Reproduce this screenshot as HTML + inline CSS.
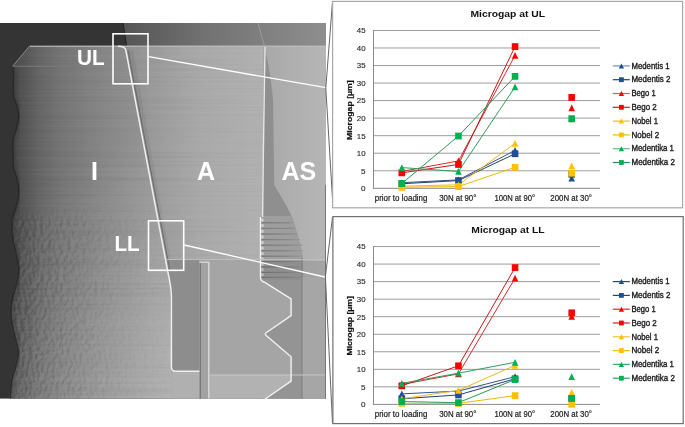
<!DOCTYPE html>
<html><head><meta charset="utf-8"><title>Microgap</title>
<style>
html,body{margin:0;padding:0;background:#fff;}
body{width:685px;height:427px;overflow:hidden;position:relative;}
svg{position:absolute;left:0;top:0;}
text{font-family:"Liberation Sans", Arial, sans-serif;}
</style></head><body>
<svg width="685" height="427" viewBox="0 0 685 427">
<defs>
  <linearGradient id="gBody" x1="8" y1="0" x2="326" y2="0" gradientUnits="userSpaceOnUse">
    <stop offset="0" stop-color="#4a4a4a"/>
    <stop offset="0.044" stop-color="#525252"/>
    <stop offset="0.10" stop-color="#666666"/>
    <stop offset="0.165" stop-color="#747474"/>
    <stop offset="0.29" stop-color="#858585"/>
    <stop offset="0.45" stop-color="#969696"/>
    <stop offset="0.60" stop-color="#a2a2a2"/>
    <stop offset="0.80" stop-color="#a6a6a6"/>
    <stop offset="1" stop-color="#a8a8a8"/>
  </linearGradient>
  <linearGradient id="gBand" x1="124" y1="0" x2="326" y2="0" gradientUnits="userSpaceOnUse">
    <stop offset="0" stop-color="#555"/>
    <stop offset="0.4" stop-color="#727272"/>
    <stop offset="1" stop-color="#8e8e8e"/>
  </linearGradient>
  <linearGradient id="gLow" x1="20" y1="200" x2="170" y2="400" gradientUnits="userSpaceOnUse">
    <stop offset="0" stop-color="#fff" stop-opacity="0"/>
    <stop offset="0.3" stop-color="#fff" stop-opacity="0.05"/>
    <stop offset="1" stop-color="#fff" stop-opacity="0.25"/>
  </linearGradient>
  <filter id="fBone" x="0" y="0" width="1" height="1" color-interpolation-filters="sRGB">
    <feTurbulence type="fractalNoise" baseFrequency="0.26 0.2" numOctaves="3" seed="7" result="n"/>
    <feDiffuseLighting in="n" surfaceScale="3" lighting-color="#fff" diffuseConstant="0.65" result="l">
      <feDistantLight azimuth="200" elevation="50"/>
    </feDiffuseLighting>
    <feColorMatrix in="l" type="matrix" values="0 0 0 0 1  0 0 0 0 1  0 0 0 0 1  1.6 0 0 0 -0.8" result="hi"/>
    <feColorMatrix in="l" type="matrix" values="0 0 0 0 0  0 0 0 0 0  0 0 0 0 0  -1.6 0 0 0 0.8" result="lo"/>
    <feMerge><feMergeNode in="lo"/><feMergeNode in="hi"/></feMerge>
  </filter>
  <linearGradient id="gStripe" x1="261" y1="0" x2="303" y2="0" gradientUnits="userSpaceOnUse"><stop offset="0" stop-color="#7c7c7c"/><stop offset="0.6" stop-color="#888"/><stop offset="1" stop-color="#9a9a9a"/></linearGradient>
  <linearGradient id="gAS" x1="270" y1="0" x2="326" y2="0" gradientUnits="userSpaceOnUse"><stop offset="0" stop-color="#aaaaaa"/><stop offset="1" stop-color="#b6b6b6"/></linearGradient>
  <filter id="fStreak" x="0" y="0" width="1" height="1" color-interpolation-filters="sRGB">
    <feTurbulence type="fractalNoise" baseFrequency="0.004 0.42" numOctaves="2" seed="3" result="n"/>
    <feColorMatrix in="n" type="matrix" values="0 0 0 0 1  0 0 0 0 1  0 0 0 0 1  0.9 0 0 0 -0.45" result="hi"/>
    <feColorMatrix in="n" type="matrix" values="0 0 0 0 0  0 0 0 0 0  0 0 0 0 0  -0.9 0 0 0 0.45" result="lo"/>
    <feMerge><feMergeNode in="lo"/><feMergeNode in="hi"/></feMerge>
  </filter>
  <linearGradient id="gAreg" x1="130" y1="0" x2="263" y2="0" gradientUnits="userSpaceOnUse"><stop offset="0" stop-color="#fff" stop-opacity="0.02"/><stop offset="1" stop-color="#fff" stop-opacity="0.12"/></linearGradient>
  <filter id="fBlur" x="-0.2" y="-0.2" width="1.4" height="1.4"><feGaussianBlur stdDeviation="2.5"/></filter>
  <filter id="fBlur1" x="-0.2" y="-0.2" width="1.4" height="1.4"><feGaussianBlur stdDeviation="0.8"/></filter>
  <linearGradient id="gMaskV" x1="0" y1="205" x2="0" y2="222" gradientUnits="userSpaceOnUse"><stop offset="0" stop-color="#fff" stop-opacity="0"/><stop offset="1" stop-color="#fff" stop-opacity="1"/></linearGradient>
  <mask id="mBone" maskUnits="userSpaceOnUse" x="0" y="200" width="180" height="200"><rect x="0" y="200" width="180" height="200" fill="url(#gMaskV)"/></mask>
  <linearGradient id="gMaskH" x1="8" y1="0" x2="170" y2="0" gradientUnits="userSpaceOnUse"><stop offset="0" stop-color="#fff"/><stop offset="0.32" stop-color="#fff" stop-opacity="0.65"/><stop offset="0.7" stop-color="#fff" stop-opacity="0.2"/><stop offset="1" stop-color="#fff" stop-opacity="0.05"/></linearGradient>
  <mask id="mBoneH" maskUnits="userSpaceOnUse" x="0" y="200" width="180" height="200"><rect x="0" y="200" width="180" height="200" fill="url(#gMaskH)"/></mask>
  <clipPath id="cImpl">
    <path d="M30,45.5 L326,45.5 L326,398.6 L9.5,398.6 C9.6,397.2 9.6,393.5 9.9,390.0 C10.2,386.5 10.8,381.3 11.6,377.4 C12.4,373.5 13.8,371.0 14.7,366.8 C15.6,362.6 17.4,356.9 17.3,352.0 C17.2,347.1 15.4,342.3 14.3,337.4 C13.2,332.5 11.6,327.4 10.9,322.6 C10.2,317.8 9.9,312.9 10.1,308.4 C10.3,303.9 11.2,300.0 12.2,295.8 C13.1,291.6 14.9,287.6 15.8,283.0 C16.8,278.4 18.1,273.6 17.9,268.4 C17.7,263.2 15.8,256.9 14.7,251.6 C13.6,246.3 12.2,242.1 11.6,236.8 C11.0,231.5 11.0,224.2 11.3,220.0 C11.7,215.8 12.8,214.8 13.7,211.6 C14.6,208.4 16.1,204.9 16.8,201.0 C17.5,197.1 18.2,192.6 17.9,188.4 C17.6,184.2 16.1,179.3 15.2,175.8 C14.3,172.3 13.1,170.7 12.6,167.4 C12.1,164.1 12.3,159.9 12.2,156.0 C12.1,152.1 11.9,147.4 12.0,144.0 C12.1,140.6 12.4,138.6 13.0,135.8 C13.6,133.0 15.0,130.9 15.8,127.4 C16.6,123.9 18.1,118.9 17.9,114.7 C17.7,110.5 15.6,105.3 14.7,102.0 C13.8,98.7 12.9,100.7 12.6,94.7 C12.2,88.8 12.6,71.0 12.6,66.3 Z"/>
  </clipPath>
  <clipPath id="cLeft">
    <path d="M0,46 L126,46 L170,281.5 L171.5,399 L0,399 Z"/>
  </clipPath>
</defs>
<!-- dark background -->
<rect x="0" y="23" width="326" height="375.6" fill="#343434"/>
<!-- top band right -->
<polygon points="123,23 326,23 326,46 127,46" fill="url(#gBand)"/>
<line x1="258" y1="23" x2="264.5" y2="46" stroke="#9a9a9a" stroke-width="1"/>
<line x1="123" y1="23" x2="126.5" y2="46" stroke="#262626" stroke-width="1.2"/>
<g clip-path="url(#cImpl)">
<!-- body -->
<rect x="0" y="45" width="326" height="354" fill="url(#gBody)"/>
<!-- chamfer top lighter -->

<!-- lower-left lighter -->
<g clip-path="url(#cLeft)"><rect x="0" y="150" width="175" height="250" fill="url(#gLow)"/></g>
<!-- horizontal streaks -->
<rect x="0" y="46" width="326" height="353" fill="#000" filter="url(#fStreak)" opacity="0.12"/>
<!-- bone region texture -->
<g mask="url(#mBone)" clip-path="url(#cLeft)"><g mask="url(#mBoneH)"><rect x="0" y="205" width="175" height="194" fill="#000" filter="url(#fBone)" opacity="0.24"/></g></g>
<!-- edge shadow -->
<path d="M12.6,66.3 C12.6,71.0 12.2,88.8 12.6,94.7 C12.9,100.7 13.8,98.7 14.7,102.0 C15.6,105.3 17.7,110.5 17.9,114.7 C18.1,118.9 16.6,123.9 15.8,127.4 C15.0,130.9 13.6,133.0 13.0,135.8 C12.4,138.6 12.1,140.6 12.0,144.0 C11.9,147.4 12.1,152.1 12.2,156.0 C12.3,159.9 12.1,164.1 12.6,167.4 C13.1,170.7 14.3,172.3 15.2,175.8 C16.1,179.3 17.6,184.2 17.9,188.4 C18.2,192.6 17.5,197.1 16.8,201.0 C16.1,204.9 14.6,208.4 13.7,211.6 C12.8,214.8 11.7,215.8 11.3,220.0 C11.0,224.2 11.0,231.5 11.6,236.8 C12.2,242.1 13.6,246.3 14.7,251.6 C15.8,256.9 17.7,263.2 17.9,268.4 C18.1,273.6 16.8,278.4 15.8,283.0 C14.9,287.6 13.1,291.6 12.2,295.8 C11.2,300.0 10.3,303.9 10.1,308.4 C9.9,312.9 10.2,317.8 10.9,322.6 C11.6,327.4 13.2,332.5 14.3,337.4 C15.4,342.3 17.2,347.1 17.3,352.0 C17.4,356.9 15.6,362.6 14.7,366.8 C13.8,371.0 12.4,373.5 11.6,377.4 C10.8,381.3 10.2,386.5 9.9,390.0 C9.6,393.5 9.6,397.2 9.5,398.6" fill="none" stroke="#000" stroke-width="8" opacity="0.2" filter="url(#fBlur)"/>
<path d="M12.6,66.3 C12.6,71.0 12.2,88.8 12.6,94.7 C12.9,100.7 13.8,98.7 14.7,102.0 C15.6,105.3 17.7,110.5 17.9,114.7 C18.1,118.9 16.6,123.9 15.8,127.4 C15.0,130.9 13.6,133.0 13.0,135.8 C12.4,138.6 12.1,140.6 12.0,144.0 C11.9,147.4 12.1,152.1 12.2,156.0 C12.3,159.9 12.1,164.1 12.6,167.4 C13.1,170.7 14.3,172.3 15.2,175.8 C16.1,179.3 17.6,184.2 17.9,188.4 C18.2,192.6 17.5,197.1 16.8,201.0 C16.1,204.9 14.6,208.4 13.7,211.6 C12.8,214.8 11.7,215.8 11.3,220.0 C11.0,224.2 11.0,231.5 11.6,236.8 C12.2,242.1 13.6,246.3 14.7,251.6 C15.8,256.9 17.7,263.2 17.9,268.4 C18.1,273.6 16.8,278.4 15.8,283.0 C14.9,287.6 13.1,291.6 12.2,295.8 C11.2,300.0 10.3,303.9 10.1,308.4 C9.9,312.9 10.2,317.8 10.9,322.6 C11.6,327.4 13.2,332.5 14.3,337.4 C15.4,342.3 17.2,347.1 17.3,352.0 C17.4,356.9 15.6,362.6 14.7,366.8 C13.8,371.0 12.4,373.5 11.6,377.4 C10.8,381.3 10.2,386.5 9.9,390.0 C9.6,393.5 9.6,397.2 9.5,398.6" fill="none" stroke="#262626" stroke-width="3.2" opacity="0.85"/>
<!-- shadow right of diagonal -->
<path d="M127,50 L171,282 L171,262 L133,50 Z" fill="#000" opacity="0.05"/>
<!-- A region lighten -->
<polygon points="126,46 263,46 263,259 167,259" fill="url(#gAreg)"/>
<!-- AS region -->
<polygon points="264,46 326,46 326,399 264,399" fill="url(#gAS)"/>
<!-- wedge right of screw line -->
<path d="M264.5,47 C267,58 271,75 273,100 L274.3,185 C278,192 289,208 293,220 C297,232 300.5,245 302.5,258 L303.5,399 L262,399 L262,216 Z" fill="#8f8f8f"/>
<!-- thread zone -->
<path d="M260.3,216 L291,216 C295,226 299,240 302,256 L303,282 L266,282 Q260.3,282 260.3,276 Z" fill="#9e9e9e"/>
<g stroke="url(#gStripe)" stroke-width="1.4">
<line x1="261" y1="222.8" x2="292.4" y2="222.8"/>
<line x1="261" y1="228.4" x2="294.9" y2="228.4"/>
<line x1="261" y1="234" x2="297.4" y2="234"/>
<line x1="261" y1="239.6" x2="299.9" y2="239.6"/>
<line x1="261" y1="245.2" x2="302.4" y2="245.2"/>
<line x1="261" y1="250.8" x2="303.0" y2="250.8"/>
<line x1="261" y1="256.2" x2="303.0" y2="256.2"/>
<line x1="261" y1="261.6" x2="303.0" y2="261.6"/>
<line x1="261" y1="267.0" x2="303.0" y2="267.0"/>
<line x1="261" y1="272.4" x2="303.0" y2="272.4"/>
<line x1="261" y1="277.4" x2="303.0" y2="277.4"/>
</g>
<g fill="#c8c8c8">
<rect x="261" y="218.5" width="2.8" height="3.2" rx="1.2"/>
<rect x="261" y="224.1" width="2.8" height="3.2" rx="1.2"/>
<rect x="261" y="229.7" width="2.8" height="3.2" rx="1.2"/>
<rect x="261" y="235.3" width="2.8" height="3.2" rx="1.2"/>
<rect x="261" y="240.9" width="2.8" height="3.2" rx="1.2"/>
<rect x="261" y="246.5" width="2.8" height="3.2" rx="1.2"/>
<rect x="261" y="251.9" width="2.8" height="3.2" rx="1.2"/>
<rect x="261" y="257.3" width="2.8" height="3.2" rx="1.2"/>
<rect x="261" y="262.7" width="2.8" height="3.2" rx="1.2"/>
<rect x="261" y="268.1" width="2.8" height="3.2" rx="1.2"/>
<rect x="261" y="273.1" width="2.8" height="3.2" rx="1.2"/>
</g>
<rect x="260.5" y="261" width="66" height="21" fill="#000" opacity="0.09"/>
<!-- lower inner region -->
<polygon points="171,259 260.5,259 260.5,282 292,282 292,399 171,399" fill="#a5a5a5"/>
<path d="M167.5,259 L199.4,259 L199.4,371.3 L171.4,371.3 L171.4,296 C171.4,288 169.5,280 167.5,270 Z" fill="#8d8d8d"/>
<!-- zigzag right darker region -->
<path d="M263,280 L266,282 L291.1,298.9 L291.1,315.7 L265.2,334 L291.1,356.8 L291.1,381.2 L263.7,400 L302,400 L302,280 Z" fill="#949494"/>
<rect x="302" y="277" width="24" height="122" fill="#a6a6a6"/>
<line x1="302" y1="258" x2="302" y2="399" stroke="#7e7e7e" stroke-width="1"/>
<!-- lower strip -->
<rect x="171.4" y="371.3" width="28" height="28" fill="#b0b0b0"/>
<path d="M209.2,375 L291.1,375 L291.1,381.2 L263.7,400 L209.2,400 Z" fill="#b2b2b2"/>
<line x1="209" y1="375" x2="326" y2="375" stroke="#c6c6c6" stroke-width="1"/>
<!-- vertical bar -->
<rect x="199.4" y="262" width="10.2" height="137" fill="#a2a2a2"/>
<line x1="200.4" y1="263" x2="200.4" y2="399" stroke="#7a7a7a" stroke-width="1.3"/>
<line x1="208.8" y1="262" x2="208.8" y2="399" stroke="#d8d8d8" stroke-width="1.5"/>
<path d="M199.4,262.3 L209.5,262.3" stroke="#d0d0d0" stroke-width="1.4"/>
</g>
<!-- top edge light line -->
<line x1="30" y1="46.3" x2="326" y2="46.3" stroke="#bdbdbd" stroke-width="1"/>
<line x1="13" y1="66.3" x2="70" y2="66.3" stroke="#808080" stroke-width="0.8"/>
<!-- implant left chamfer edge -->
<polyline points="30,45.5 12.6,66.3" fill="none" stroke="#8a8a8a" stroke-width="1"/>
<!-- dark shadow beside diagonal -->
<path d="M127.9,50 L169.8,270" fill="none" stroke="#5e5e5e" stroke-width="1" opacity="0.75"/>
<!-- bright diagonal interface line -->
<path d="M118,46.3 Q124.8,46.3 125.8,50 L167.5,270 C169.5,280 171.4,288 171.4,296 L171.4,367 Q171.4,371.3 175.5,371.3 L199.4,371.3" fill="none" stroke="#efefef" stroke-width="1.5"/>
<!-- bright screw line -->
<path d="M265,47 L263.4,150 L262.6,217" fill="none" stroke="#e6e6e6" stroke-width="1.4"/>
<!-- zigzag bright outline -->
<path d="M260.5,217 L260.5,277 Q260.5,281 264,282 L291.1,298.9 L291.1,315.7 L266.5,332.5 Q264,334 266.5,335.8 L291.1,356.8 L291.1,381.2 L263.7,400" fill="none" stroke="#f2f2f2" stroke-width="1.4"/>
<!-- shoulder edge -->
<path d="M166.5,259.5 L326,259.5" fill="none" stroke="#bdbdbd" stroke-width="1"/>
<!-- right edge dark line -->
<line x1="325.5" y1="185" x2="325.5" y2="398.6" stroke="#707070" stroke-width="0.9"/>
<!-- labels -->
<g fill="#fff" font-weight="bold" font-family="Liberation Sans, Arial, sans-serif">
<text x="77" y="65" font-size="21.5" textLength="27.7" lengthAdjust="spacingAndGlyphs">UL</text>
<text x="114.4" y="251" font-size="21.5" textLength="25.2" lengthAdjust="spacingAndGlyphs">LL</text>
<text x="91" y="180.3" font-size="25">I</text>
<text x="197" y="180.3" font-size="25">A</text>
<text x="281.5" y="180.3" font-size="25">AS</text>
</g>
<!-- callout boxes -->
<rect x="113" y="33.8" width="35" height="50" fill="none" stroke="#fff" stroke-width="1.6"/>
<rect x="148.5" y="220.8" width="35.2" height="49.5" fill="none" stroke="#fff" stroke-width="1.6"/>
<line x1="148.6" y1="56.7" x2="326" y2="87.7" stroke="#fff" stroke-width="1.3"/>
<line x1="184.3" y1="245" x2="325" y2="277" stroke="#fff" stroke-width="1.3"/>
<!-- callout pointer lines -->
<polyline points="332.5,1.5 325.8,88 333,207.5" fill="none" stroke="#666" stroke-width="1"/>
<polyline points="332.5,217 325.4,276.5 332.5,423.5" fill="none" stroke="#666" stroke-width="1"/>

<rect x="332.6" y="1.4" width="350.0" height="206.4" fill="#fff" stroke="#a8a8a8" stroke-width="1.2"/>
<line x1="373.5" y1="170.76" x2="600.0" y2="170.76" stroke="#9c9c9c" stroke-width="1"/>
<line x1="373.5" y1="153.22" x2="600.0" y2="153.22" stroke="#9c9c9c" stroke-width="1"/>
<line x1="373.5" y1="135.68" x2="600.0" y2="135.68" stroke="#9c9c9c" stroke-width="1"/>
<line x1="373.5" y1="118.14" x2="600.0" y2="118.14" stroke="#9c9c9c" stroke-width="1"/>
<line x1="373.5" y1="100.60" x2="600.0" y2="100.60" stroke="#9c9c9c" stroke-width="1"/>
<line x1="373.5" y1="83.06" x2="600.0" y2="83.06" stroke="#9c9c9c" stroke-width="1"/>
<line x1="373.5" y1="65.52" x2="600.0" y2="65.52" stroke="#9c9c9c" stroke-width="1"/>
<line x1="373.5" y1="47.98" x2="600.0" y2="47.98" stroke="#9c9c9c" stroke-width="1"/>
<line x1="373.5" y1="30.44" x2="600.0" y2="30.44" stroke="#9c9c9c" stroke-width="1"/>
<line x1="373.5" y1="29.94" x2="373.5" y2="188.80" stroke="#8a8a8a" stroke-width="1"/>
<line x1="373.5" y1="188.30" x2="600.0" y2="188.30" stroke="#8a8a8a" stroke-width="1"/>
<text x="365.6" y="191.1" text-anchor="end" font-size="8" fill="#262626" stroke="#262626" stroke-width="0.12" textLength="4.5" lengthAdjust="spacingAndGlyphs">0</text>
<text x="365.6" y="173.6" text-anchor="end" font-size="8" fill="#262626" stroke="#262626" stroke-width="0.12" textLength="4.5" lengthAdjust="spacingAndGlyphs">5</text>
<text x="365.6" y="156.0" text-anchor="end" font-size="8" fill="#262626" stroke="#262626" stroke-width="0.12" textLength="8.8" lengthAdjust="spacingAndGlyphs">10</text>
<text x="365.6" y="138.5" text-anchor="end" font-size="8" fill="#262626" stroke="#262626" stroke-width="0.12" textLength="8.8" lengthAdjust="spacingAndGlyphs">15</text>
<text x="365.6" y="120.9" text-anchor="end" font-size="8" fill="#262626" stroke="#262626" stroke-width="0.12" textLength="8.8" lengthAdjust="spacingAndGlyphs">20</text>
<text x="365.6" y="103.4" text-anchor="end" font-size="8" fill="#262626" stroke="#262626" stroke-width="0.12" textLength="8.8" lengthAdjust="spacingAndGlyphs">25</text>
<text x="365.6" y="85.9" text-anchor="end" font-size="8" fill="#262626" stroke="#262626" stroke-width="0.12" textLength="8.8" lengthAdjust="spacingAndGlyphs">30</text>
<text x="365.6" y="68.3" text-anchor="end" font-size="8" fill="#262626" stroke="#262626" stroke-width="0.12" textLength="8.8" lengthAdjust="spacingAndGlyphs">35</text>
<text x="365.6" y="50.8" text-anchor="end" font-size="8" fill="#262626" stroke="#262626" stroke-width="0.12" textLength="8.8" lengthAdjust="spacingAndGlyphs">40</text>
<text x="365.6" y="33.2" text-anchor="end" font-size="8" fill="#262626" stroke="#262626" stroke-width="0.12" textLength="8.8" lengthAdjust="spacingAndGlyphs">45</text>
<text x="470.5" y="17.2" font-size="9.9" font-weight="bold" fill="#111" textLength="74.6" lengthAdjust="spacingAndGlyphs">Microgap at UL</text>
<text x="0" y="0" transform="translate(352.3,110.1) rotate(-90)" text-anchor="middle" font-size="8.1" font-weight="bold" fill="#111" stroke="#111" stroke-width="0.2" textLength="59.6" lengthAdjust="spacingAndGlyphs">Microgap [µm]</text>
<text x="374.7" y="201.0" font-size="8.5" fill="#1a1a1a" stroke="#1a1a1a" stroke-width="0.2" textLength="52.8" lengthAdjust="spacingAndGlyphs">prior to loading</text>
<text x="439.2" y="201.0" font-size="8.5" fill="#1a1a1a" stroke="#1a1a1a" stroke-width="0.2" textLength="37.2" lengthAdjust="spacingAndGlyphs">30N at 90°</text>
<text x="494.4" y="201.0" font-size="8.5" fill="#1a1a1a" stroke="#1a1a1a" stroke-width="0.2" textLength="40.6" lengthAdjust="spacingAndGlyphs">100N at 90°</text>
<text x="550.3" y="201.0" font-size="8.5" fill="#1a1a1a" stroke="#1a1a1a" stroke-width="0.2" textLength="41.7" lengthAdjust="spacingAndGlyphs">200N at 30°</text>
<polyline points="401.81,182.69 458.44,179.88 515.06,150.41" fill="none" stroke="#34558c" stroke-width="1.0" stroke-linejoin="round"/>
<polyline points="401.81,183.74 458.44,180.58 515.06,153.75" fill="none" stroke="#243f70" stroke-width="1.0" stroke-linejoin="round"/>
<polyline points="401.81,171.46 458.44,160.94 515.06,55.35" fill="none" stroke="#d42a2a" stroke-width="1.0" stroke-linejoin="round"/>
<polyline points="401.81,172.86 458.44,164.45 515.06,46.58" fill="none" stroke="#c81818" stroke-width="1.0" stroke-linejoin="round"/>
<polyline points="401.81,186.20 458.44,184.79 515.06,143.40" fill="none" stroke="#e9b824" stroke-width="1.0" stroke-linejoin="round"/>
<polyline points="401.81,187.25 458.44,186.55 515.06,167.25" fill="none" stroke="#efb800" stroke-width="1.0" stroke-linejoin="round"/>
<polyline points="401.81,167.60 458.44,171.46 515.06,86.92" fill="none" stroke="#2f9e5c" stroke-width="1.0" stroke-linejoin="round"/>
<polyline points="401.81,183.56 458.44,136.03 515.06,76.39" fill="none" stroke="#279a55" stroke-width="1.0" stroke-linejoin="round"/>
<polygon points="401.81,179.29 405.11,186.09 398.51,186.09" fill="#1f4e96"/>
<polygon points="458.44,176.48 461.74,183.28 455.14,183.28" fill="#1f4e96"/>
<polygon points="515.06,147.01 518.36,153.81 511.76,153.81" fill="#1f4e96"/>
<polygon points="571.69,174.73 574.99,181.53 568.39,181.53" fill="#1f4e96"/>
<rect x="398.51" y="180.34" width="6.60" height="6.80" fill="#1f4e96"/>
<rect x="455.14" y="177.18" width="6.60" height="6.80" fill="#1f4e96"/>
<rect x="511.76" y="150.35" width="6.60" height="6.80" fill="#1f4e96"/>
<rect x="568.39" y="170.87" width="6.60" height="6.80" fill="#1f4e96"/>
<polygon points="401.81,168.06 405.11,174.86 398.51,174.86" fill="#ff0000"/>
<polygon points="458.44,157.54 461.74,164.34 455.14,164.34" fill="#ff0000"/>
<polygon points="515.06,51.95 518.36,58.75 511.76,58.75" fill="#ff0000"/>
<polygon points="571.69,104.57 574.99,111.37 568.39,111.37" fill="#ff0000"/>
<rect x="398.51" y="169.46" width="6.60" height="6.80" fill="#ff0000"/>
<rect x="455.14" y="161.05" width="6.60" height="6.80" fill="#ff0000"/>
<rect x="511.76" y="43.18" width="6.60" height="6.80" fill="#ff0000"/>
<rect x="568.39" y="94.04" width="6.60" height="6.80" fill="#ff0000"/>
<polygon points="401.81,182.80 405.11,189.60 398.51,189.60" fill="#ffc000"/>
<polygon points="458.44,181.39 461.74,188.19 455.14,188.19" fill="#ffc000"/>
<polygon points="515.06,140.00 518.36,146.80 511.76,146.80" fill="#ffc000"/>
<polygon points="571.69,162.45 574.99,169.25 568.39,169.25" fill="#ffc000"/>
<rect x="398.51" y="183.85" width="6.60" height="6.80" fill="#ffc000"/>
<rect x="455.14" y="183.15" width="6.60" height="6.80" fill="#ffc000"/>
<rect x="511.76" y="163.85" width="6.60" height="6.80" fill="#ffc000"/>
<rect x="568.39" y="169.82" width="6.60" height="6.80" fill="#ffc000"/>
<polygon points="401.81,164.20 405.11,171.00 398.51,171.00" fill="#00b050"/>
<polygon points="458.44,168.06 461.74,174.86 455.14,174.86" fill="#00b050"/>
<polygon points="515.06,83.52 518.36,90.32 511.76,90.32" fill="#00b050"/>
<polygon points="571.69,115.44 574.99,122.24 568.39,122.24" fill="#00b050"/>
<rect x="398.51" y="180.16" width="6.60" height="6.80" fill="#00b050"/>
<rect x="455.14" y="132.63" width="6.60" height="6.80" fill="#00b050"/>
<rect x="511.76" y="72.99" width="6.60" height="6.80" fill="#00b050"/>
<rect x="568.39" y="115.27" width="6.60" height="6.80" fill="#00b050"/>
<line x1="612.8" y1="65.90" x2="629.8" y2="65.90" stroke="#7b8fb3" stroke-width="1.2"/>
<polygon points="621.40,63.40 624.10,68.40 618.70,68.40" fill="#1f4e96"/>
<text x="631.5" y="68.6" font-size="8.3" fill="#1a1a1a" stroke="#1a1a1a" stroke-width="0.35" textLength="38.0" lengthAdjust="spacingAndGlyphs">Medentis 1</text>
<line x1="612.8" y1="79.70" x2="629.8" y2="79.70" stroke="#2a3f66" stroke-width="1.2"/>
<rect x="619.00" y="77.30" width="4.80" height="4.80" fill="#1f4e96"/>
<text x="631.5" y="82.4" font-size="8.3" fill="#1a1a1a" stroke="#1a1a1a" stroke-width="0.35" textLength="38.9" lengthAdjust="spacingAndGlyphs">Medentis 2</text>
<line x1="612.8" y1="93.50" x2="629.8" y2="93.50" stroke="#dc5a5a" stroke-width="1.2"/>
<polygon points="621.40,91.00 624.10,96.00 618.70,96.00" fill="#ff0000"/>
<text x="631.5" y="96.2" font-size="8.3" fill="#1a1a1a" stroke="#1a1a1a" stroke-width="0.35" textLength="24.2" lengthAdjust="spacingAndGlyphs">Bego 1</text>
<line x1="612.8" y1="107.30" x2="629.8" y2="107.30" stroke="#c42020" stroke-width="1.2"/>
<rect x="619.00" y="104.90" width="4.80" height="4.80" fill="#ff0000"/>
<text x="631.5" y="110.0" font-size="8.3" fill="#1a1a1a" stroke="#1a1a1a" stroke-width="0.35" textLength="25.2" lengthAdjust="spacingAndGlyphs">Bego 2</text>
<line x1="612.8" y1="121.10" x2="629.8" y2="121.10" stroke="#e8bb3a" stroke-width="1.2"/>
<polygon points="621.40,118.60 624.10,123.60 618.70,123.60" fill="#ffc000"/>
<text x="631.5" y="123.8" font-size="8.3" fill="#1a1a1a" stroke="#1a1a1a" stroke-width="0.35" textLength="26.5" lengthAdjust="spacingAndGlyphs">Nobel 1</text>
<line x1="612.8" y1="134.90" x2="629.8" y2="134.90" stroke="#f0b800" stroke-width="1.2"/>
<rect x="619.00" y="132.50" width="4.80" height="4.80" fill="#ffc000"/>
<text x="631.5" y="137.6" font-size="8.3" fill="#1a1a1a" stroke="#1a1a1a" stroke-width="0.35" textLength="27.7" lengthAdjust="spacingAndGlyphs">Nobel 2</text>
<line x1="612.8" y1="148.70" x2="629.8" y2="148.70" stroke="#6cba88" stroke-width="1.2"/>
<polygon points="621.40,146.20 624.10,151.20 618.70,151.20" fill="#00b050"/>
<text x="631.5" y="151.4" font-size="8.3" fill="#1a1a1a" stroke="#1a1a1a" stroke-width="0.35" textLength="42.4" lengthAdjust="spacingAndGlyphs">Medentika 1</text>
<line x1="612.8" y1="162.50" x2="629.8" y2="162.50" stroke="#2a8a52" stroke-width="1.2"/>
<rect x="619.00" y="160.10" width="4.80" height="4.80" fill="#00b050"/>
<text x="631.5" y="165.2" font-size="8.3" fill="#1a1a1a" stroke="#1a1a1a" stroke-width="0.35" textLength="43.4" lengthAdjust="spacingAndGlyphs">Medentika 2</text>
<rect x="332.9" y="216.6" width="350.30000000000007" height="207.00000000000003" fill="#fff" stroke="#707070" stroke-width="1.2"/>
<line x1="373.5" y1="386.86" x2="600.0" y2="386.86" stroke="#9c9c9c" stroke-width="1"/>
<line x1="373.5" y1="369.32" x2="600.0" y2="369.32" stroke="#9c9c9c" stroke-width="1"/>
<line x1="373.5" y1="351.78" x2="600.0" y2="351.78" stroke="#9c9c9c" stroke-width="1"/>
<line x1="373.5" y1="334.24" x2="600.0" y2="334.24" stroke="#9c9c9c" stroke-width="1"/>
<line x1="373.5" y1="316.70" x2="600.0" y2="316.70" stroke="#9c9c9c" stroke-width="1"/>
<line x1="373.5" y1="299.16" x2="600.0" y2="299.16" stroke="#9c9c9c" stroke-width="1"/>
<line x1="373.5" y1="281.62" x2="600.0" y2="281.62" stroke="#9c9c9c" stroke-width="1"/>
<line x1="373.5" y1="264.08" x2="600.0" y2="264.08" stroke="#9c9c9c" stroke-width="1"/>
<line x1="373.5" y1="246.54" x2="600.0" y2="246.54" stroke="#9c9c9c" stroke-width="1"/>
<line x1="373.5" y1="246.04" x2="373.5" y2="404.90" stroke="#8a8a8a" stroke-width="1"/>
<line x1="373.5" y1="404.40" x2="600.0" y2="404.40" stroke="#8a8a8a" stroke-width="1"/>
<text x="365.6" y="407.2" text-anchor="end" font-size="8" fill="#262626" stroke="#262626" stroke-width="0.12" textLength="4.5" lengthAdjust="spacingAndGlyphs">0</text>
<text x="365.6" y="389.7" text-anchor="end" font-size="8" fill="#262626" stroke="#262626" stroke-width="0.12" textLength="4.5" lengthAdjust="spacingAndGlyphs">5</text>
<text x="365.6" y="372.1" text-anchor="end" font-size="8" fill="#262626" stroke="#262626" stroke-width="0.12" textLength="8.8" lengthAdjust="spacingAndGlyphs">10</text>
<text x="365.6" y="354.6" text-anchor="end" font-size="8" fill="#262626" stroke="#262626" stroke-width="0.12" textLength="8.8" lengthAdjust="spacingAndGlyphs">15</text>
<text x="365.6" y="337.0" text-anchor="end" font-size="8" fill="#262626" stroke="#262626" stroke-width="0.12" textLength="8.8" lengthAdjust="spacingAndGlyphs">20</text>
<text x="365.6" y="319.5" text-anchor="end" font-size="8" fill="#262626" stroke="#262626" stroke-width="0.12" textLength="8.8" lengthAdjust="spacingAndGlyphs">25</text>
<text x="365.6" y="302.0" text-anchor="end" font-size="8" fill="#262626" stroke="#262626" stroke-width="0.12" textLength="8.8" lengthAdjust="spacingAndGlyphs">30</text>
<text x="365.6" y="284.4" text-anchor="end" font-size="8" fill="#262626" stroke="#262626" stroke-width="0.12" textLength="8.8" lengthAdjust="spacingAndGlyphs">35</text>
<text x="365.6" y="266.9" text-anchor="end" font-size="8" fill="#262626" stroke="#262626" stroke-width="0.12" textLength="8.8" lengthAdjust="spacingAndGlyphs">40</text>
<text x="365.6" y="249.3" text-anchor="end" font-size="8" fill="#262626" stroke="#262626" stroke-width="0.12" textLength="8.8" lengthAdjust="spacingAndGlyphs">45</text>
<text x="471.3" y="232.9" font-size="9.9" font-weight="bold" fill="#111" textLength="73.3" lengthAdjust="spacingAndGlyphs">Microgap at LL</text>
<text x="0" y="0" transform="translate(352.3,325.8) rotate(-90)" text-anchor="middle" font-size="8.1" font-weight="bold" fill="#111" stroke="#111" stroke-width="0.2" textLength="59.6" lengthAdjust="spacingAndGlyphs">Microgap [µm]</text>
<text x="374.7" y="416.7" font-size="8.5" fill="#1a1a1a" stroke="#1a1a1a" stroke-width="0.2" textLength="52.8" lengthAdjust="spacingAndGlyphs">prior to loading</text>
<text x="439.2" y="416.7" font-size="8.5" fill="#1a1a1a" stroke="#1a1a1a" stroke-width="0.2" textLength="37.2" lengthAdjust="spacingAndGlyphs">30N at 90°</text>
<text x="494.4" y="416.7" font-size="8.5" fill="#1a1a1a" stroke="#1a1a1a" stroke-width="0.2" textLength="40.6" lengthAdjust="spacingAndGlyphs">100N at 90°</text>
<text x="550.3" y="416.7" font-size="8.5" fill="#1a1a1a" stroke="#1a1a1a" stroke-width="0.2" textLength="41.7" lengthAdjust="spacingAndGlyphs">200N at 30°</text>
<polyline points="401.81,393.88 458.44,391.07 515.06,376.69" fill="none" stroke="#34558c" stroke-width="1.0" stroke-linejoin="round"/>
<polyline points="401.81,398.79 458.44,394.93 515.06,378.79" fill="none" stroke="#243f70" stroke-width="1.0" stroke-linejoin="round"/>
<polyline points="401.81,384.40 458.44,373.88 515.06,278.11" fill="none" stroke="#d42a2a" stroke-width="1.0" stroke-linejoin="round"/>
<polyline points="401.81,385.81 458.44,365.81 515.06,267.59" fill="none" stroke="#c81818" stroke-width="1.0" stroke-linejoin="round"/>
<polyline points="401.81,398.79 458.44,390.37 515.06,365.46" fill="none" stroke="#e9b824" stroke-width="1.0" stroke-linejoin="round"/>
<polyline points="401.81,403.35 458.44,403.35 515.06,395.63" fill="none" stroke="#efb800" stroke-width="1.0" stroke-linejoin="round"/>
<polyline points="401.81,383.35 458.44,373.18 515.06,362.30" fill="none" stroke="#2f9e5c" stroke-width="1.0" stroke-linejoin="round"/>
<polyline points="401.81,401.59 458.44,402.65 515.06,379.49" fill="none" stroke="#279a55" stroke-width="1.0" stroke-linejoin="round"/>
<polygon points="401.81,390.48 405.11,397.28 398.51,397.28" fill="#1f4e96"/>
<polygon points="458.44,387.67 461.74,394.47 455.14,394.47" fill="#1f4e96"/>
<polygon points="515.06,373.29 518.36,380.09 511.76,380.09" fill="#1f4e96"/>
<polygon points="571.69,395.04 574.99,401.84 568.39,401.84" fill="#1f4e96"/>
<rect x="398.51" y="395.39" width="6.60" height="6.80" fill="#1f4e96"/>
<rect x="455.14" y="391.53" width="6.60" height="6.80" fill="#1f4e96"/>
<rect x="511.76" y="375.39" width="6.60" height="6.80" fill="#1f4e96"/>
<rect x="568.39" y="395.04" width="6.60" height="6.80" fill="#1f4e96"/>
<polygon points="401.81,381.00 405.11,387.80 398.51,387.80" fill="#ff0000"/>
<polygon points="458.44,370.48 461.74,377.28 455.14,377.28" fill="#ff0000"/>
<polygon points="515.06,274.71 518.36,281.51 511.76,281.51" fill="#ff0000"/>
<polygon points="571.69,312.95 574.99,319.75 568.39,319.75" fill="#ff0000"/>
<rect x="398.51" y="382.41" width="6.60" height="6.80" fill="#ff0000"/>
<rect x="455.14" y="362.41" width="6.60" height="6.80" fill="#ff0000"/>
<rect x="511.76" y="264.19" width="6.60" height="6.80" fill="#ff0000"/>
<rect x="568.39" y="309.44" width="6.60" height="6.80" fill="#ff0000"/>
<polygon points="401.81,395.39 405.11,402.19 398.51,402.19" fill="#ffc000"/>
<polygon points="458.44,386.97 461.74,393.77 455.14,393.77" fill="#ffc000"/>
<polygon points="515.06,362.06 518.36,368.86 511.76,368.86" fill="#ffc000"/>
<polygon points="571.69,389.07 574.99,395.87 568.39,395.87" fill="#ffc000"/>
<rect x="398.51" y="399.95" width="6.60" height="6.80" fill="#ffc000"/>
<rect x="455.14" y="399.95" width="6.60" height="6.80" fill="#ffc000"/>
<rect x="511.76" y="392.23" width="6.60" height="6.80" fill="#ffc000"/>
<rect x="568.39" y="400.82" width="6.60" height="6.80" fill="#ffc000"/>
<polygon points="401.81,379.95 405.11,386.75 398.51,386.75" fill="#00b050"/>
<polygon points="458.44,369.78 461.74,376.58 455.14,376.58" fill="#00b050"/>
<polygon points="515.06,358.90 518.36,365.70 511.76,365.70" fill="#00b050"/>
<polygon points="571.69,373.29 574.99,380.09 568.39,380.09" fill="#00b050"/>
<rect x="398.51" y="398.19" width="6.60" height="6.80" fill="#00b050"/>
<rect x="455.14" y="399.25" width="6.60" height="6.80" fill="#00b050"/>
<rect x="511.76" y="376.09" width="6.60" height="6.80" fill="#00b050"/>
<rect x="568.39" y="395.04" width="6.60" height="6.80" fill="#00b050"/>
<line x1="612.8" y1="281.60" x2="629.8" y2="281.60" stroke="#2f4b7c" stroke-width="1.2"/>
<polygon points="621.40,279.10 624.10,284.10 618.70,284.10" fill="#1f4e96"/>
<text x="631.5" y="284.3" font-size="8.3" fill="#1a1a1a" stroke="#1a1a1a" stroke-width="0.35" textLength="38.0" lengthAdjust="spacingAndGlyphs">Medentis 1</text>
<line x1="612.8" y1="295.40" x2="629.8" y2="295.40" stroke="#2a4270" stroke-width="1.2"/>
<rect x="619.00" y="293.00" width="4.80" height="4.80" fill="#1f4e96"/>
<text x="631.5" y="298.1" font-size="8.3" fill="#1a1a1a" stroke="#1a1a1a" stroke-width="0.35" textLength="38.9" lengthAdjust="spacingAndGlyphs">Medentis 2</text>
<line x1="612.8" y1="309.20" x2="629.8" y2="309.20" stroke="#d43030" stroke-width="1.2"/>
<polygon points="621.40,306.70 624.10,311.70 618.70,311.70" fill="#ff0000"/>
<text x="631.5" y="311.9" font-size="8.3" fill="#1a1a1a" stroke="#1a1a1a" stroke-width="0.35" textLength="24.2" lengthAdjust="spacingAndGlyphs">Bego 1</text>
<line x1="612.8" y1="323.00" x2="629.8" y2="323.00" stroke="#cc2020" stroke-width="1.2"/>
<rect x="619.00" y="320.60" width="4.80" height="4.80" fill="#ff0000"/>
<text x="631.5" y="325.7" font-size="8.3" fill="#1a1a1a" stroke="#1a1a1a" stroke-width="0.35" textLength="25.2" lengthAdjust="spacingAndGlyphs">Bego 2</text>
<line x1="612.8" y1="336.80" x2="629.8" y2="336.80" stroke="#eec040" stroke-width="1.2"/>
<polygon points="621.40,334.30 624.10,339.30 618.70,339.30" fill="#ffc000"/>
<text x="631.5" y="339.5" font-size="8.3" fill="#1a1a1a" stroke="#1a1a1a" stroke-width="0.35" textLength="26.5" lengthAdjust="spacingAndGlyphs">Nobel 1</text>
<line x1="612.8" y1="350.60" x2="629.8" y2="350.60" stroke="#f0bc10" stroke-width="1.2"/>
<rect x="619.00" y="348.20" width="4.80" height="4.80" fill="#ffc000"/>
<text x="631.5" y="353.3" font-size="8.3" fill="#1a1a1a" stroke="#1a1a1a" stroke-width="0.35" textLength="27.7" lengthAdjust="spacingAndGlyphs">Nobel 2</text>
<line x1="612.8" y1="364.40" x2="629.8" y2="364.40" stroke="#3aaa66" stroke-width="1.2"/>
<polygon points="621.40,361.90 624.10,366.90 618.70,366.90" fill="#00b050"/>
<text x="631.5" y="367.1" font-size="8.3" fill="#1a1a1a" stroke="#1a1a1a" stroke-width="0.35" textLength="42.4" lengthAdjust="spacingAndGlyphs">Medentika 1</text>
<line x1="612.8" y1="378.20" x2="629.8" y2="378.20" stroke="#2fa060" stroke-width="1.2"/>
<rect x="619.00" y="375.80" width="4.80" height="4.80" fill="#00b050"/>
<text x="631.5" y="380.9" font-size="8.3" fill="#1a1a1a" stroke="#1a1a1a" stroke-width="0.35" textLength="43.4" lengthAdjust="spacingAndGlyphs">Medentika 2</text>
</svg>
</body></html>
